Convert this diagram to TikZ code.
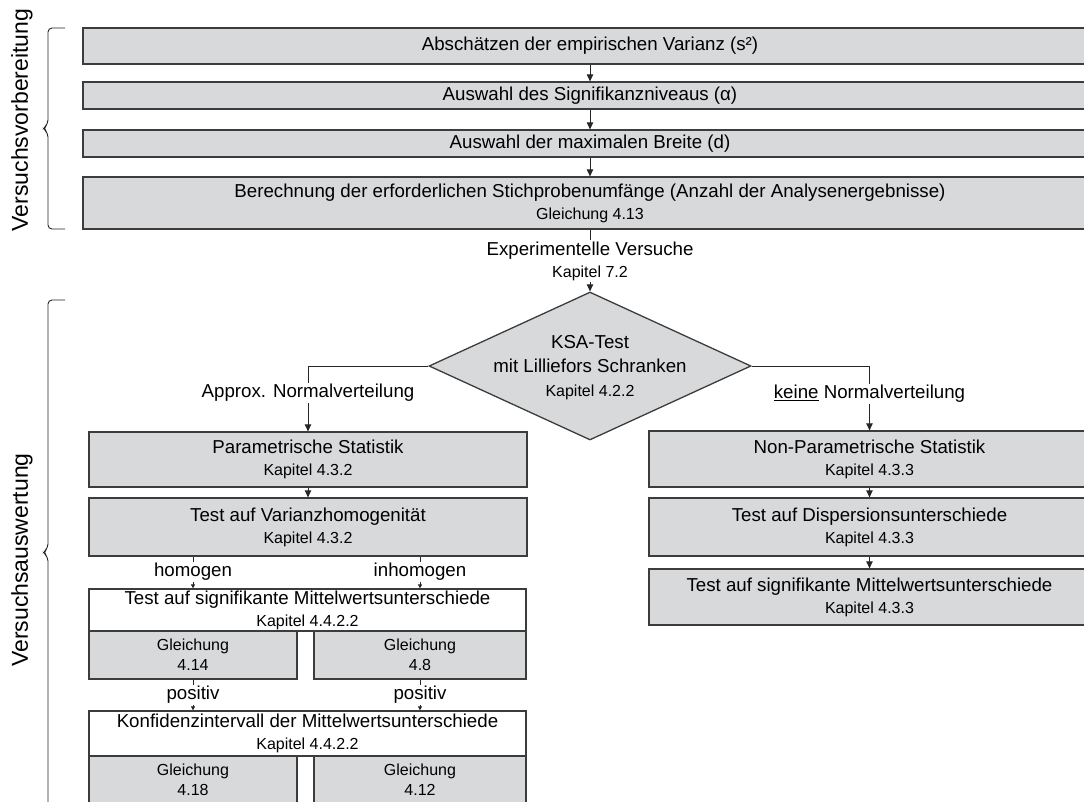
\documentclass[tikz,border=0pt]{standalone}
\usepackage{fontspec}
\setmainfont{Liberation Sans}
\usetikzlibrary{shapes.geometric,arrows.meta}
\definecolor{boxgray}{RGB}{216,217,219}
\definecolor{linegray}{RGB}{60,60,60}
\newcommand{\bigtxt}{\fontsize{18.7}{22}\selectfont}
\newcommand{\smalltxt}{\fontsize{16}{20}\selectfont}
\newcommand{\sidetxt}{\fontsize{23}{26}\selectfont}
\begin{document}
\begin{tikzpicture}[x=1pt,y=-1pt,
	box/.style={draw=linegray,fill=boxgray,line width=1.3pt,inner sep=0pt,align=center,font=\bigtxt},
	wbox/.style={box,fill=white},
	lbl/.style={inner sep=1pt,align=center,font=\bigtxt},
	conn/.style={draw=black!85,line width=0.9pt},
	arr/.style={-{Triangle[length=7pt,width=6.5pt]}},
	tip/.style={-{Triangle[length=4pt,width=4pt]}},
	brace/.style={draw=black!85,line width=0.9pt,rounded corners=4pt}]
		\useasboundingbox(0,0)rectangle(1084,801);
		\clip(0,0)rectangle(1084,801);
		% Versuchsvorbereitung
		\node[box,minimum width=1014pt,minimum height=36pt](b1)at(590,46){Abschätzen der empirischen Varianz (s²)};
		\node[box,minimum width=1014pt,minimum height=27pt](b2)at(590,95.5){Auswahl des Signifikanzniveaus (α)};
		\node[box,minimum width=1014pt,minimum height=27pt](b3)at(590,143.5){Auswahl der maximalen Breite (d)};
		\node[box,minimum width=1014pt,minimum height=52pt](b4)at(590,203){Berechnung der erforderlichen Stichprobenumfänge (Anzahl der Analysenergebnisse)\\{\smalltxt Gleichung 4.13}};
		\node[lbl](exp)at(590,261){Experimentelle Versuche\\{\smalltxt Kapitel 7.2}};
		% Versuchsauswertung
		\node[diamond,draw=linegray,fill=boxgray,line width=1.3pt,inner sep=0pt,aspect=2.18,minimum width=322pt,minimum height=148pt](ksa)at(590,366){};
		\node[lbl,font=\fontsize{18.7}{24}\selectfont](ksatxt)at(590,368){KSA-Test\\mit Lilliefors Schranken\\{\smalltxt Kapitel 4.2.2}};
		\node[lbl](appr)at(308,393){Approx. Normalverteilung};
		\node[lbl](keine)at(869.5,394){\underline{keine} Normalverteilung};
		\node[box,minimum width=438pt,minimum height=55pt](par)at(308,459.5){Parametrische Statistik\\{\smalltxt Kapitel 4.3.2}};
		\node[box,minimum width=438pt,minimum height=58pt](var)at(308,527){Test auf Varianzhomogenität\\{\smalltxt Kapitel 4.3.2}};
		\node[lbl](hom)at(193,572){homogen};
		\node[lbl](inhom)at(420,572){inhomogen};
		\node[wbox,minimum width=437pt,minimum height=42pt](tsig)at(307.5,610){Test auf signifikante Mittelwertsunterschiede\\{\smalltxt Kapitel 4.4.2.2}};
		\node[box,font=\smalltxt,minimum width=208pt,minimum height=48pt](g1)at(193,655){Gleichung\\4.14};
		\node[box,font=\smalltxt,minimum width=212pt,minimum height=48pt](g2)at(420,655){Gleichung\\4.8};
		\node[lbl](pos1)at(193,695){positiv};
		\node[lbl](pos2)at(420,695){positiv};
		\node[wbox,minimum width=437pt,minimum height=45pt](kon)at(307.5,733.5){Konfidenzintervall der Mittelwertsunterschiede\\{\smalltxt Kapitel 4.4.2.2}};
		\node[box,font=\smalltxt,minimum width=208pt,minimum height=48pt](g3)at(193,780){Gleichung\\4.18};
		\node[box,font=\smalltxt,minimum width=212pt,minimum height=48pt](g4)at(420,780){Gleichung\\4.12};
		\node[box,minimum width=441pt,minimum height=56pt](np)at(869.5,459){Non-Parametrische Statistik\\{\smalltxt Kapitel 4.3.3}};
		\node[box,minimum width=441pt,minimum height=58pt](disp)at(869.5,527){Test auf Dispersionsunterschiede\\{\smalltxt Kapitel 4.3.3}};
		\node[box,minimum width=441pt,minimum height=56pt](msig)at(869.5,597){Test auf signifikante Mittelwertsunterschiede\\{\smalltxt Kapitel 4.3.3}};
		% Klammern
		\node[rotate=90,font=\sidetxt](vorb)at(22,120){Versuchsvorbereitung};
		\node[rotate=90,font=\sidetxt](ausw)at(22,560){Versuchsauswertung};
		\draw[brace](65,28)--(48,28)--(48,124)--(43,128.5)--(48,133)--(48,229)--(65,229);
		\draw[brace](65,300)--(48,300)--(48,548)--(43,552.5)--(48,557)--(48,810);
		% Pfeile
		\draw[conn,arr](b1)--(b2);
		\draw[conn,arr](b2)--(b3);
		\draw[conn,arr](b3)--(b4);
		\draw[conn](b4)--(exp);
		\draw[conn,arr](exp)--(ksa);
		\draw[conn](ksa.west)-|(appr);
		\draw[conn,arr](appr)--(par);
		\draw[conn](ksa.east)-|(keine);
		\draw[conn,arr](keine)--(np);
		\draw[conn,arr](par)--(var);
		\draw[conn,arr](np)--(disp);
		\draw[conn,arr](disp)--(msig);
		\draw[conn](var.south-|hom)--(hom);
		\draw[conn,tip](hom)--(hom|-tsig.north);
		\draw[conn](var.south-|inhom)--(inhom);
		\draw[conn,tip](inhom)--(inhom|-tsig.north);
		\draw[conn](g1)--(pos1);
		\draw[conn,tip](pos1)--(pos1|-kon.north);
		\draw[conn](g2)--(pos2);
		\draw[conn,tip](pos2)--(pos2|-kon.north);
	    \end{tikzpicture}
\end{document}
